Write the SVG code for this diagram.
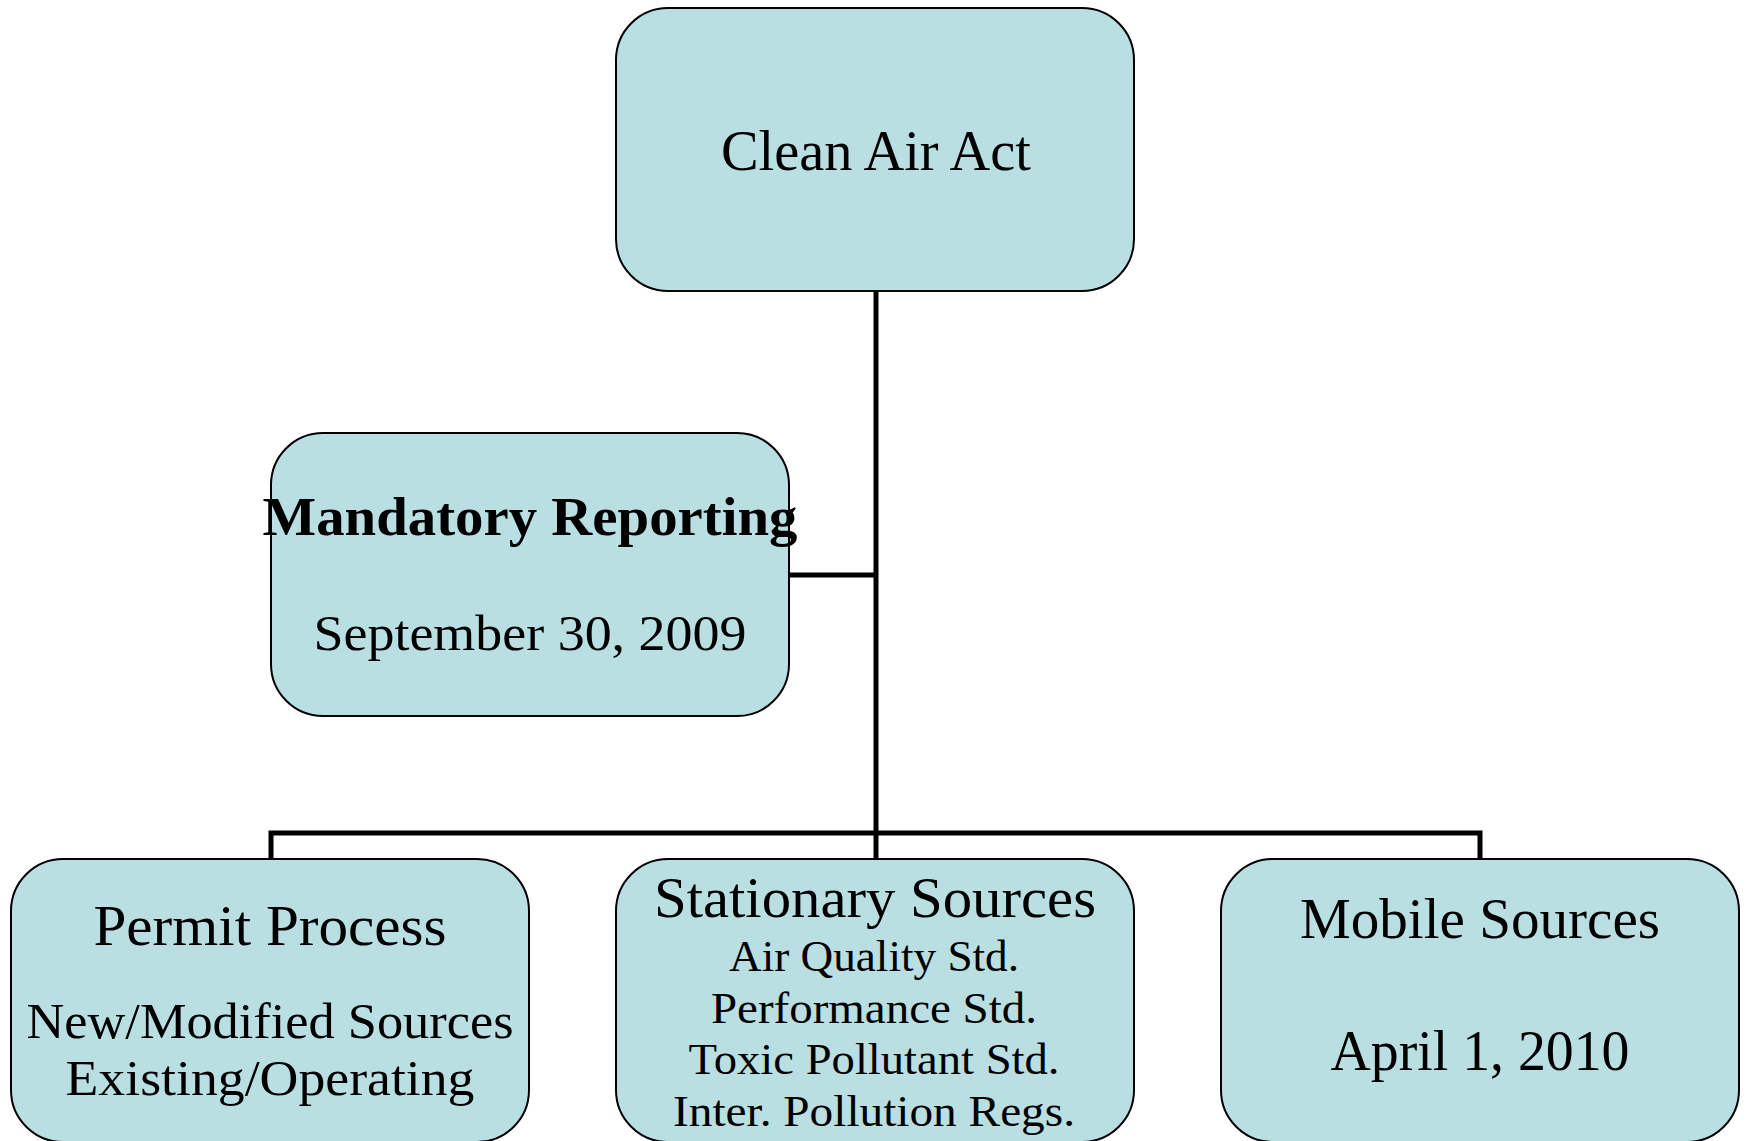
<svg xmlns="http://www.w3.org/2000/svg" width="1747" height="1141" viewBox="0 0 1747 1141">
  <style>
    .box { fill: #b9dfe3; stroke: #000; stroke-width: 2; }
    .wire { fill: none; stroke: #000; stroke-width: 5; }
    text { font-family: "Liberation Serif", "Times New Roman", serif; fill: #000; text-anchor: middle; }
    .big { font-size: 56px; }
    .mid { font-size: 50px; }
    .small { font-size: 44px; }
    .bold { font-weight: bold; font-size: 54px; }
  </style>
  <rect width="1747" height="1141" fill="#fff"/>

  <!-- connectors -->
  <g id="connectors">
    <path class="wire" d="M876 291 V859"/>
    <path class="wire" d="M789 575 H876"/>
    <path class="wire" d="M271 859 V833 H1480 V859"/>
  </g>

  <g id="clean-air-act">
    <rect class="box" x="616" y="8" width="518" height="283" rx="52"/>
    <text class="big" x="876" y="170" textLength="310" lengthAdjust="spacingAndGlyphs">Clean Air Act</text>
  </g>

  <g id="mandatory-reporting">
    <rect class="box" x="271" y="433" width="518" height="283" rx="52"/>
    <text class="bold" x="530" y="535" textLength="535" lengthAdjust="spacingAndGlyphs">Mandatory Reporting</text>
    <text class="mid" x="530" y="650" textLength="433" lengthAdjust="spacingAndGlyphs">September 30, 2009</text>
  </g>

  <g id="permit-process">
    <rect class="box" x="11" y="859" width="518" height="283" rx="52"/>
    <text class="big" x="270" y="945" textLength="353" lengthAdjust="spacingAndGlyphs">Permit Process</text>
    <text class="mid" x="270" y="1038" textLength="487" lengthAdjust="spacingAndGlyphs">New/Modified Sources</text>
    <text class="mid" x="270" y="1095" textLength="409" lengthAdjust="spacingAndGlyphs">Existing/Operating</text>
  </g>

  <g id="stationary-sources">
    <rect class="box" x="616" y="859" width="518" height="283" rx="52"/>
    <text class="big" x="875" y="917" textLength="442" lengthAdjust="spacingAndGlyphs">Stationary Sources</text>
    <text class="small" x="874" y="971" textLength="290" lengthAdjust="spacingAndGlyphs">Air Quality Std.</text>
    <text class="small" x="874" y="1023" textLength="326" lengthAdjust="spacingAndGlyphs">Performance Std.</text>
    <text class="small" x="874" y="1074" textLength="371" lengthAdjust="spacingAndGlyphs">Toxic Pollutant Std.</text>
    <text class="small" x="874" y="1126" textLength="402" lengthAdjust="spacingAndGlyphs">Inter. Pollution Regs.</text>
  </g>

  <g id="mobile-sources">
    <rect class="box" x="1221" y="859" width="518" height="283" rx="52"/>
    <text class="big" x="1480" y="938" textLength="360" lengthAdjust="spacingAndGlyphs">Mobile Sources</text>
    <text class="big" x="1480" y="1070" textLength="299" lengthAdjust="spacingAndGlyphs">April 1, 2010</text>
  </g>
</svg>
